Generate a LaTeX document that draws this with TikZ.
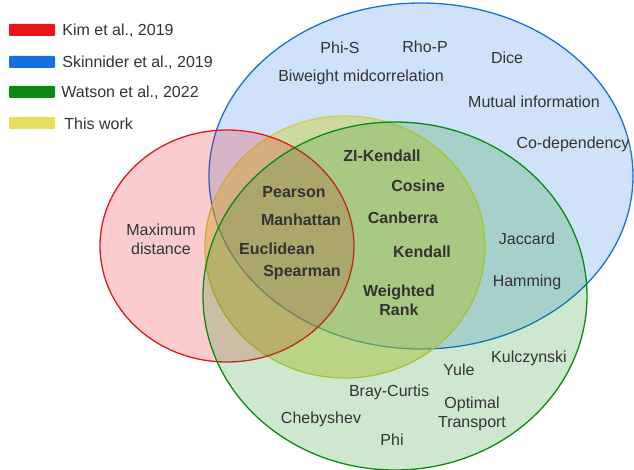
\documentclass[tikz,border=0pt]{standalone}
\usepackage{fontspec}
\setmainfont{Liberation Sans}
\usetikzlibrary{positioning}
\definecolor{kimred}{RGB}{232,22,26}
\definecolor{skinniderblue}{RGB}{21,112,224}
\definecolor{watsongreen}{RGB}{10,138,16}
\definecolor{workyellow}{RGB}{205,208,70}
\definecolor{workbar}{RGB}{232,222,96}
\definecolor{labelgray}{RGB}{51,51,51}
\tikzset{
	venn/.is family,
	venn/.cd,
	set/.style = {
		line width = 1.3pt,
		fill opacity = 0.22,
	},
	method/.style = {
		text = labelgray,
		font = \fontsize{16}{19}\selectfont,
		align = center,
		inner sep = 0pt,
	},
	shared method/.style = {
		venn/method,
		font = \fontsize{16}{19}\selectfont\bfseries,
	},
	legend bar/.style = {
		draw = none,
		minimum width = 46pt,
		minimum height = 12pt,
		rounded corners = 1pt,
		inner sep = 0pt,
	},
	legend label/.style = {
		venn/method,
		anchor = west,
	},
}

\begin{document}
\begin{tikzpicture}[x = 1pt, y = -1pt]
	\useasboundingbox (0, 0) rectangle (634, 470);

	% the four sets
	\draw[venn/set, draw = skinniderblue, fill = skinniderblue, fill opacity = 0.2] (421, 176) ellipse [x radius = 212pt, y radius = 173pt];
	\draw[venn/set, draw = workyellow, fill = workyellow, fill opacity = 0.5] (345, 247) ellipse [x radius = 140pt, y radius = 131pt];
	\draw[venn/set, draw = kimred, fill = kimred] (227, 246) ellipse [x radius = 127pt, y radius = 116pt];
	\draw[venn/set, draw = watsongreen, fill = watsongreen, fill opacity = 0.2] (395, 296) ellipse [x radius = 192pt, y radius = 174pt];

	% legend
	\node[venn/legend bar, fill = kimred] (kim bar) at (32, 30) {};
	\node[venn/legend bar, fill = skinniderblue] (skinnider bar) at (32, 62) {};
	\node[venn/legend bar, fill = watsongreen] (watson bar) at (32, 92) {};
	\node[venn/legend bar, fill = workbar] (work bar) at (32, 123) {};
	\node[venn/legend label, right = 7pt of kim bar, yshift = -1pt] (kim label) {Kim et al., 2019};
	\node[venn/legend label, right = 7pt of skinnider bar, yshift = -1pt] (skinnider label) {Skinnider et al., 2019};
	\node[venn/legend label, right = 6pt of watson bar, yshift = -1pt] (watson label) {Watson et al., 2022};
	\node[venn/legend label, right = 9pt of work bar, yshift = -1pt] (work label) {This work};

	% methods of one set only
	\node[venn/method] (max dist) at (161, 239) {Maximum\\distance};
	\node[venn/method] (phi s) at (340, 48) {Phi-S};
	\node[venn/method] (rho p) at (425, 47) {Rho-P};
	\node[venn/method] (dice) at (507, 58) {Dice};
	\node[venn/method] (biweight) at (361, 77) {Biweight midcorrelation};
	\node[venn/method] (mutual info) at (534, 102) {Mutual information};
	\node[venn/method] (codependency) at (573, 144) {Co-dependency};
	\node[venn/method] (jaccard) at (527, 239) {Jaccard};
	\node[venn/method] (hamming) at (527, 282) {Hamming};
	\node[venn/method] (kulczynski) at (529, 358) {Kulczynski};
	\node[venn/method] (yule) at (459, 370) {Yule};
	\node[venn/method] (bray curtis) at (389, 392) {Bray-Curtis};
	\node[venn/method] (optimal) at (472, 414) {Optimal\\Transport};
	\node[venn/method] (chebyshev) at (321, 419) {Chebyshev};
	\node[venn/method] (phi) at (392, 440) {Phi};

	% methods of this work
	\node[venn/shared method] (zi kendall) at (382, 156) {ZI-Kendall};
	\node[venn/shared method] (cosine) at (418, 186) {Cosine};
	\node[venn/shared method] (pearson) at (294, 192) {Pearson};
	\node[venn/shared method] (canberra) at (403, 218) {Canberra};
	\node[venn/shared method] (manhattan) at (301, 220) {Manhattan};
	\node[venn/shared method] (euclidean) at (277, 249) {Euclidean};
	\node[venn/shared method] (kendall) at (422, 252) {Kendall};
	\node[venn/shared method] (spearman) at (302, 273) {Spearman};
	\node[venn/shared method] (weighted rank) at (399, 300) {Weighted\\Rank};
\end{tikzpicture}
\end{document}
